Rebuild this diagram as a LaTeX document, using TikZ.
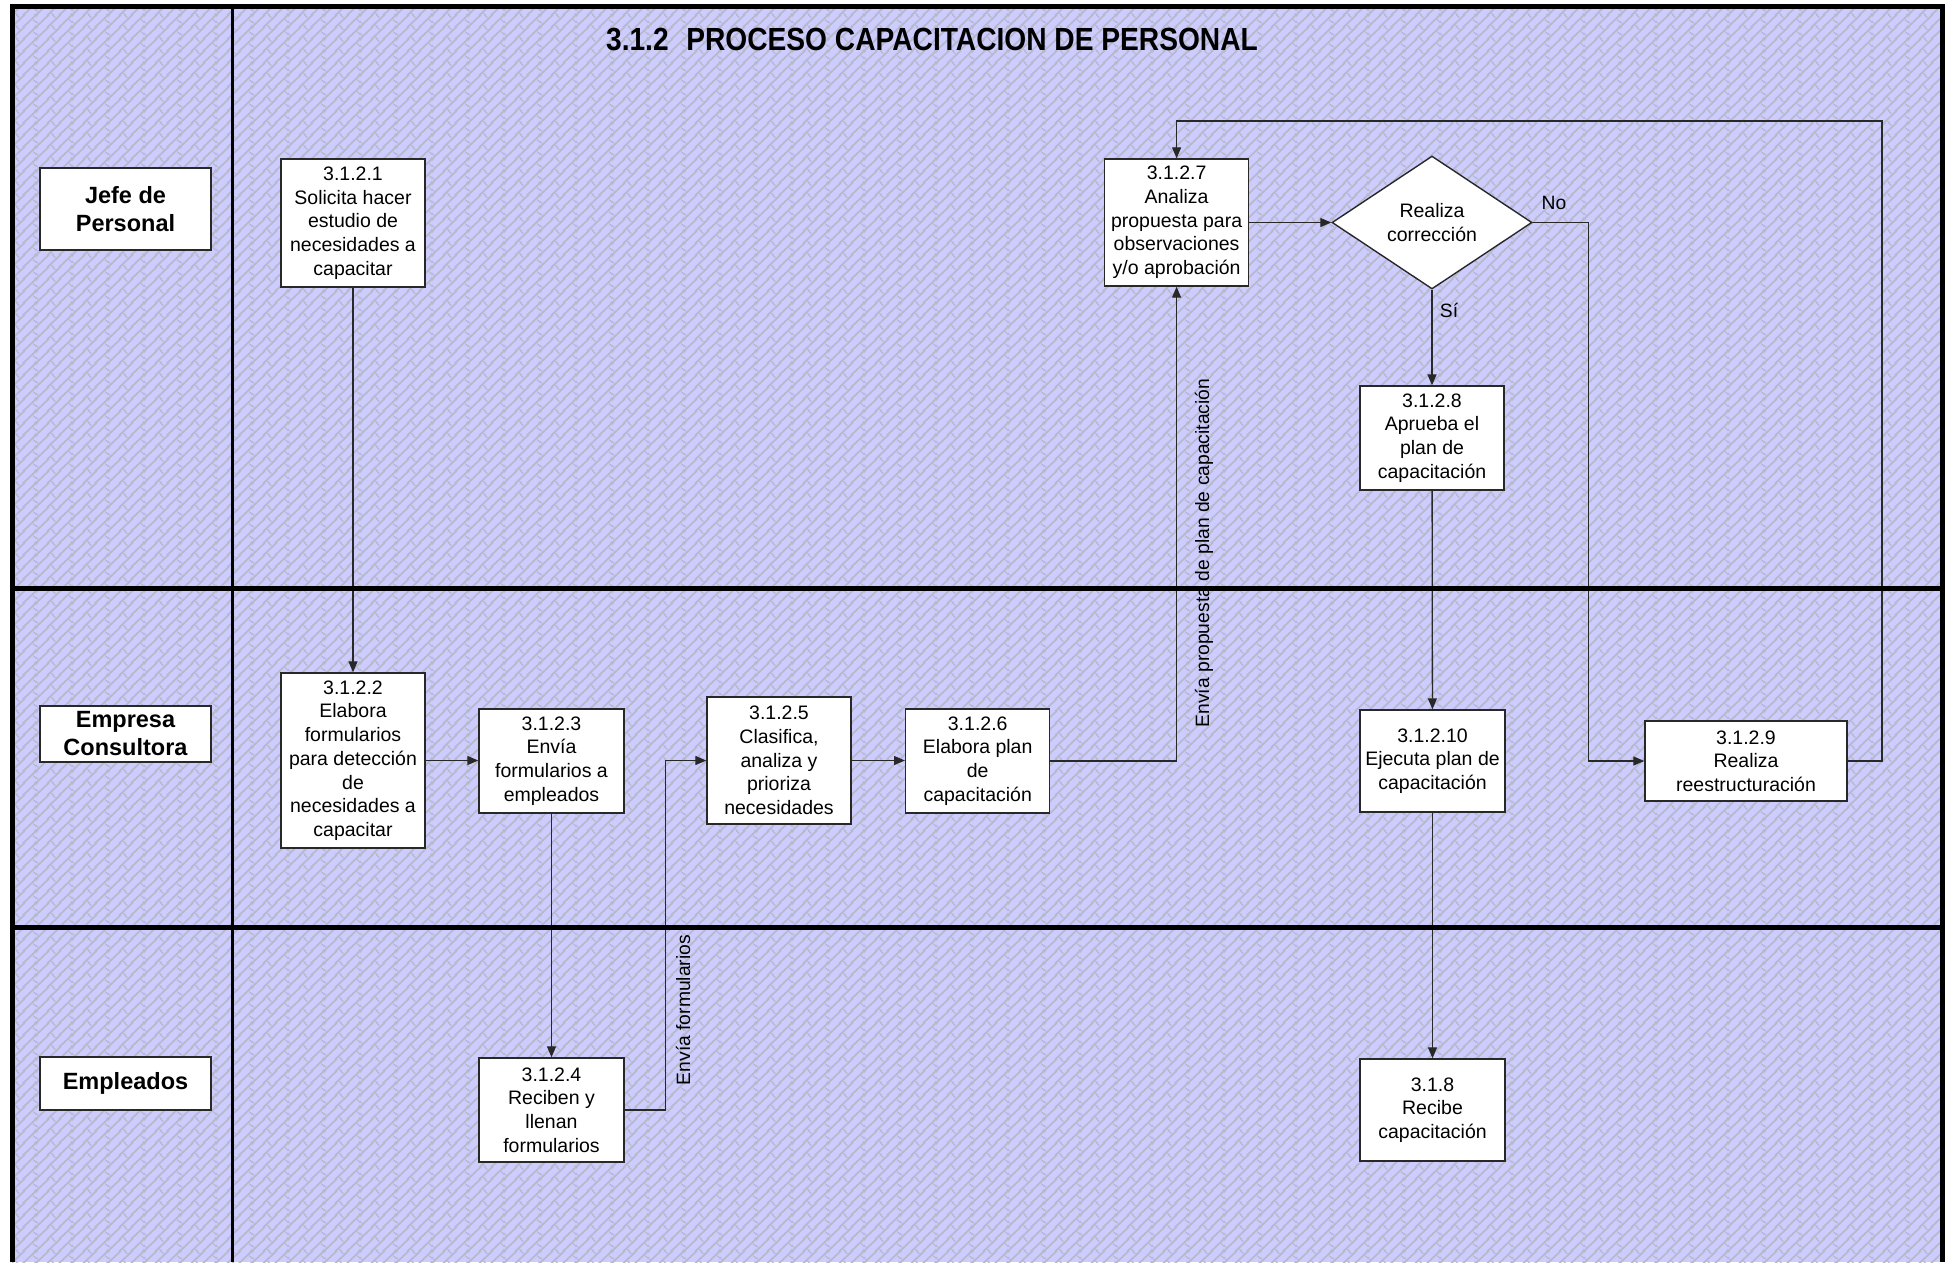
\documentclass[tikz,border=0pt]{standalone}
\usepackage{fontspec}
\setmainfont{Liberation Sans}
\newfontfamily\titlefont[FakeStretch=0.88]{Liberation Sans}
\usetikzlibrary{arrows.meta,shapes.geometric,patterns.meta}

\definecolor{lanebg}{RGB}{204,204,255}
\definecolor{weavegray}{RGB}{184,184,198}
\definecolor{edge}{RGB}{40,40,40}

% brick weave of the lanes: diagonal bars broken every 18pt
\tikzdeclarepattern{
  name=brickweave,
  type=uncolored,
  bottom left={(0pt,0pt)},
  top right={(36pt,12pt)},
  tile size={(36pt,12pt)},
  code={
    \foreach \b in {-12,0,12,24,36}
      \draw[line width=1.8pt, x=1pt, y=1pt] (\b-3,-3) -- (\b+15,15);
    \draw[line width=1.1pt, x=1pt, y=1pt] (-2,8) -- (2,4)
      (34,8) -- (38,4) (16,2) -- (20,-2) (16,14) -- (20,10);
  }
}

\tikzset{every picture/.style={line width=1.3pt}}
\tikzset{
  task/.style={draw=edge, fill=white, line width=1.4pt, align=center, inner sep=0pt,
    minimum width=144pt, font=\fontsize{19.5}{23.7}\selectfont},
  decision/.style={task, diamond, minimum width=200pt, minimum height=133pt},
  actor/.style={draw=edge, fill=white, line width=1.4pt, align=center, inner sep=0pt,
    minimum width=171pt, font=\fontsize{23.5}{28}\selectfont\bfseries},
  note/.style={inner sep=0pt, font=\fontsize{19.3}{23}\selectfont},
  flow/.style={draw=edge, line width=1.3pt, -{Triangle[length=11pt,width=9pt]}},
  lane/.style={draw=black, line width=5pt},
}

\begin{document}
\begin{tikzpicture}[x=1pt,y=1pt,yscale=-1,xscale=1]
\useasboundingbox (0,0) rectangle (1948,1262);

%Background
\fill[lanebg] (12,6) rectangle (1942,1262);
\fill[pattern=brickweave, pattern color=weavegray] (12,6) rectangle (1942,1262);

% Title
\node[anchor=base] (title) at (932,50) {\titlefont\bfseries\fontsize{32}{32}\selectfont 3.1.2\hspace{0.55em}PROCESO CAPACITACION DE PERSONAL};

% Lanes
\node[actor, minimum height=82pt] (jefe) at (125.5,209) {Jefe de\\Personal};
\node[actor, minimum height=56pt] (empresa) at (125.5,734) {Empresa\\Consultora};
\node[actor, minimum height=53pt] (empleados) at (125.5,1083.5) {Empleados};

% Steps
\node[task, minimum height=128pt] (t1) at (353,223) {3.1.2.1\\Solicita hacer\\estudio de\\necesidades a\\capacitar};
\node[task, minimum height=175pt] (t2) at (353,760.5) {3.1.2.2\\Elabora\\formularios\\para detección\\de\\necesidades a\\capacitar};
\node[task, minimum width=145pt, minimum height=104pt] (t3) at (551.5,761) {3.1.2.3\\Envía\\formularios a\\empleados};
\node[task, minimum width=145pt, minimum height=104pt] (t4) at (551.5,1110) {3.1.2.4\\Reciben y\\llenan\\formularios};
\node[task, minimum height=127pt] (t5) at (779,760.5) {3.1.2.5\\Clasifica,\\analiza y\\prioriza\\necesidades};
\node[task, minimum height=104pt] (t6) at (977.7,761) {3.1.2.6\\Elabora plan\\de\\capacitación};
\node[task, minimum height=127pt] (t7) at (1176.6,222.5) {3.1.2.7\\Analiza\\propuesta para\\observaciones\\y/o aprobación};
\node[decision] (corr) at (1432,222.5) {Realiza\\corrección};
\node[task, minimum height=104pt] (t8) at (1432,438) {3.1.2.8\\Aprueba el\\plan de\\capacitación};
\node[task, minimum width=145pt, minimum height=102pt] (t10) at (1432.5,761) {3.1.2.10\\Ejecuta plan de\\capacitación};
\node[task, minimum width=202pt, minimum height=80pt] (t9) at (1746,761) {3.1.2.9\\Realiza\\reestructuración};
\node[task, minimum width=145pt, minimum height=102pt] (t11) at (1432.5,1110) {3.1.8\\Recibe\\capacitación};

% Text Node
\node[note, rotate=90] (lblform) at (683,1010) {Envía formularios};
\node[note, rotate=90] (lblplan) at (1204,553) {Envía propuesta de plan de capacitación};
\node[note] (lblsi) at (1449,310) {Sí};
\node[note] (lblno) at (1554,203) {No};

% Connectors
\draw[flow] (t1) -- (t2);
\draw[flow] (t2.east) -- (t3.west |- t2.east);
\draw[flow] (t3) -- (t4);
\draw[flow] (t4.east) -- ++(41,0) |- (t5.west);
\draw[flow] (t5.east) -- (t6.west |- t5.east);
\draw[flow] (t6.east) -| (t7.south);
\draw[flow] (t7.east) -- (corr.west);
\draw[flow] (corr.south) -- (t8.north);
\draw[flow] (corr.east) -- ++(56,0) |- (t9.west);
\draw[flow] (t8) -- (t10);
\draw[flow] (t10) -- (t11);
\coordinate (back) at (1882,121);
\draw[flow] (t9.east) -| (back) -| (t7.north);

% Frame
\draw[lane] (12,1262) -- (12,6) -- (1942,6) -- (1942,1262);
\draw[lane, line width=3pt] (232,6) -- (232,1262);
\draw[lane] (12,588) -- (1942,588);
\draw[lane] (12,927) -- (1942,927);

\end{tikzpicture}
\end{document}
